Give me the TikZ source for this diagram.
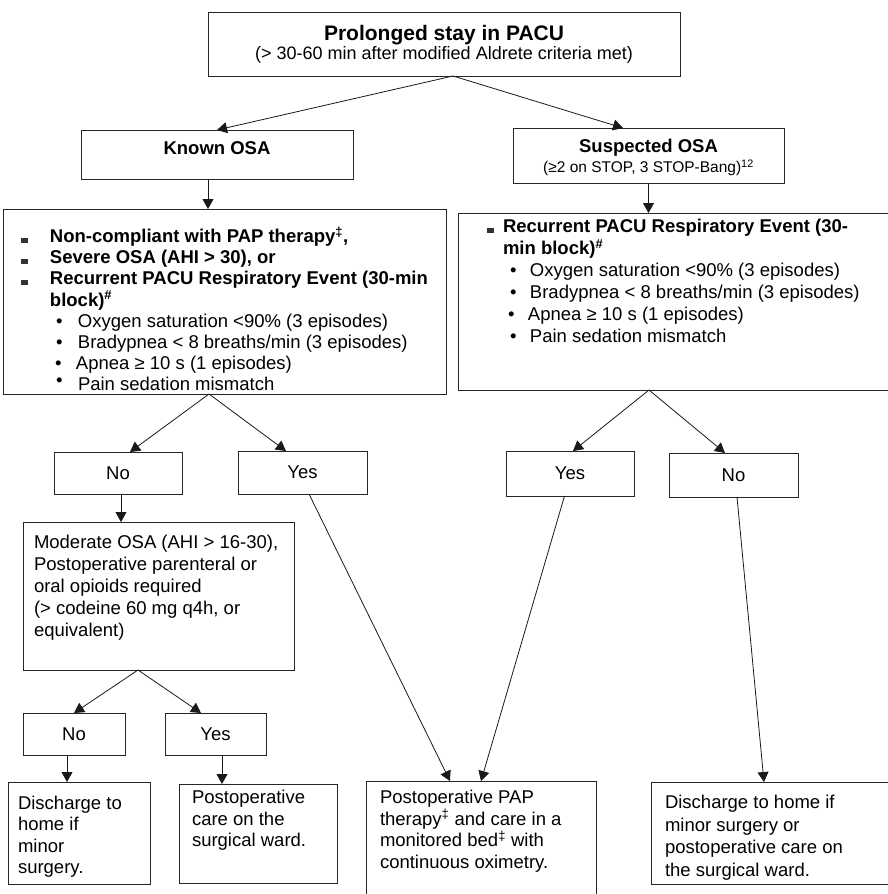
\documentclass[tikz,border=0pt]{standalone}
\usepackage{fontspec}
\setmainfont{Liberation Sans}
\usetikzlibrary{arrows.meta}

% left-aligned cell: #1 width, #2 height, #3 first baseline from top, #4 baselineskip, #5 content
\newcommand\cellL[5]{\begin{minipage}[c][#2pt][t]{#1pt}\fontsize{18.5}{#4}\selectfont\raggedright\vspace*{\dimexpr#3pt-18pt\relax}\noindent\rule{0pt}{18pt}#5\end{minipage}}
% centered cell
\newcommand\cellC[5]{\begin{minipage}[c][#2pt][t]{#1pt}\fontsize{18.5}{#4}\selectfont\centering\vspace*{\dimexpr#3pt-18pt\relax}\rule{0pt}{18pt}#5\end{minipage}}
\newcommand\Tx[2]{\hspace*{#1pt}\makebox[0pt][l]{#2}}
\newcommand\Bl[4]{\hspace*{#1pt}\makebox[0pt][l]{#3}\hspace*{\dimexpr#2pt-#1pt\relax}\makebox[0pt][l]{#4}}
\newcommand\sqb{\textcolor{black!80}{\rule{7pt}{5pt}}}
\newcommand\dotb{\textbullet}

\tikzset{
  box/.style={draw=black!85, line width=0.9pt, inner sep=0pt, outer sep=0pt, anchor=north west},
  yn/.style={box, font=\fontsize{18.5}{20}\selectfont},
  arr/.style={draw=black!90, line width=0.8pt, -{Triangle[length=10pt,width=11pt]}}
}

\begin{document}
\begin{tikzpicture}[x=1pt,y=-1pt]
\useasboundingbox (0,0) rectangle (888,894);

% top
\node[box] (top) at (208,12) {\cellC{472}{64}{28.5}{19}{{\fontsize{21}{19}\selectfont\bfseries Prolonged stay in PACU}\\{\fontsize{18}{19}\selectfont (> 30-60 min after modified Aldrete criteria met)}}};

\node[box] (known) at (81,130) {\cellC{272}{49}{24.5}{20}{\bfseries Known OSA}};

\node[box] (susp) at (513,128) {\cellC{271}{55}{24.5}{20}{{\bfseries Suspected OSA}\\{\fontsize{15.5}{20}\selectfont (≥2 on STOP, 3 STOP-Bang)\textsuperscript{12}}}};

% left big box
\node[box] (lbig) at (3,209) {\cellL{443}{185}{33.5}{21.2}{%
\Bl{18}{47}{\sqb}{\bfseries Non-compliant with PAP therapy\textsuperscript{‡},}\\
\Bl{18}{47}{\sqb}{\bfseries Severe OSA (AHI > 30), or}\\
\Bl{18}{47}{\sqb}{\bfseries Recurrent PACU Respiratory Event (30-min}\\
\Tx{47}{\bfseries block)\textsuperscript{\#}}\\
\Bl{53}{75}{\dotb}{Oxygen saturation <90\% (3 episodes)}\\
\Bl{53}{75}{\dotb}{Bradypnea < 8 breaths/min (3 episodes)}\\
\Bl{52}{73}{\dotb}{Apnea ≥ 10 s (1 episodes)}\\
\Bl{53}{75}{\raisebox{4pt}{\dotb}}{Pain sedation mismatch}}};

% right big box
\node[box] (rbig) at (458,213) {\cellL{437}{177}{19.5}{22}{%
\Bl{29}{45}{\sqb}{\bfseries Recurrent PACU Respiratory Event (30-}\\
\Tx{45}{\bfseries min block)\textsuperscript{\#}}\\
\Bl{52}{72}{\dotb}{Oxygen saturation <90\% (3 episodes)}\\
\Bl{52}{72}{\dotb}{Bradypnea < 8 breaths/min (3 episodes)}\\
\Bl{50}{70}{\dotb}{Apnea ≥ 10 s (1 episodes)}\\
\Bl{52}{72}{\dotb}{Pain sedation mismatch}}};

% yes / no
\node[yn, minimum width=128pt, minimum height=42pt] (lno) at (54,452) {No};
\node[yn, minimum width=129pt, minimum height=43pt] (lyes) at (238,451) {Yes};
\node[yn, minimum width=128pt, minimum height=45pt] (ryes) at (506,451) {Yes};
\node[yn, minimum width=129pt, minimum height=44pt] (rno) at (669,453) {No};

% moderate
\node[box] (mod) at (23,522) {\cellL{271}{148}{26.5}{22}{%
\Tx{11}{Moderate OSA (AHI > 16-30),}\\
\Tx{11}{Postoperative parenteral or}\\
\Tx{11}{oral opioids required}\\
\Tx{11}{(> codeine 60 mg q4h, or}\\
\Tx{11}{equivalent)}}};

\node[yn, minimum width=102pt, minimum height=42pt] (bno) at (23,713) {No};
\node[yn, minimum width=101pt, minimum height=42pt] (byes) at (165,713) {Yes};

% bottom boxes
\node[box] (dis) at (8,782) {\cellL{142}{102}{27.5}{21.3}{%
\Tx{10}{Discharge to}\\
\Tx{10}{home if}\\
\Tx{10}{minor}\\
\Tx{10}{surgery.}}};

\node[box] (post) at (179,784) {\cellL{158}{99}{19.5}{21.5}{%
\Tx{13}{Postoperative}\\
\Tx{13}{care on the}\\
\Tx{13}{surgical ward.}}};

\node[box] (pap) at (366,781) {\cellL{230}{125}{22.5}{21.7}{%
\Tx{14}{Postoperative PAP}\\
\Tx{14}{therapy\textsuperscript{‡} and care in a}\\
\Tx{14}{monitored bed\textsuperscript{‡} with}\\
\Tx{14}{continuous oximetry.}}};

\node[box] (rdis) at (651,782) {\cellL{244}{102}{26.5}{22.5}{%
\Tx{14}{Discharge to home if}\\
\Tx{14}{minor surgery or}\\
\Tx{14}{postoperative care on}\\
\Tx{14}{the surgical ward.}}};

% connectors
\draw[arr] ([xshift=9pt]top.south) -- (known.north);
\draw[arr] ([xshift=9pt]top.south) -- ([xshift=-25.5pt]susp.north);
\draw[arr] ([xshift=-9pt]known.south) -- ([xshift=-16.5pt]lbig.north);
\draw[arr] (susp.south) -- ([xshift=-28pt]rbig.north);
\draw[arr] ([xshift=-15.5pt]lbig.south) -- ([xshift=12pt]lno.north);
\draw[arr] ([xshift=-15.5pt]lbig.south) -- ([xshift=-16.5pt]lyes.north);
\draw[arr] ([xshift=-27.5pt]rbig.south) -- ([xshift=3pt]ryes.north);
\draw[arr] ([xshift=-27.5pt]rbig.south) -- ([xshift=-8.5pt]rno.north);
\draw[arr] ([xshift=3pt]lno.south) -- ([xshift=-37.5pt]mod.north);
\draw[arr] ([xshift=6.5pt]lyes.south) -- ([xshift=-31pt]pap.north);
\draw[arr] ([xshift=-5.5pt]ryes.south) -- (pap.north);
\draw[arr] ([xshift=3.5pt]rno.south) -- ([xshift=-9pt]rdis.north);
\draw[arr] ([xshift=-20.5pt]mod.south) -- (bno.north);
\draw[arr] ([xshift=-20.5pt]mod.south) -- ([xshift=-14.5pt]byes.north);
\draw[arr] ([xshift=-7pt]bno.south) -- ([xshift=-12pt]dis.north);
\draw[arr] ([xshift=6.5pt]byes.south) -- ([xshift=-36pt]post.north);
\end{tikzpicture}
\end{document}
